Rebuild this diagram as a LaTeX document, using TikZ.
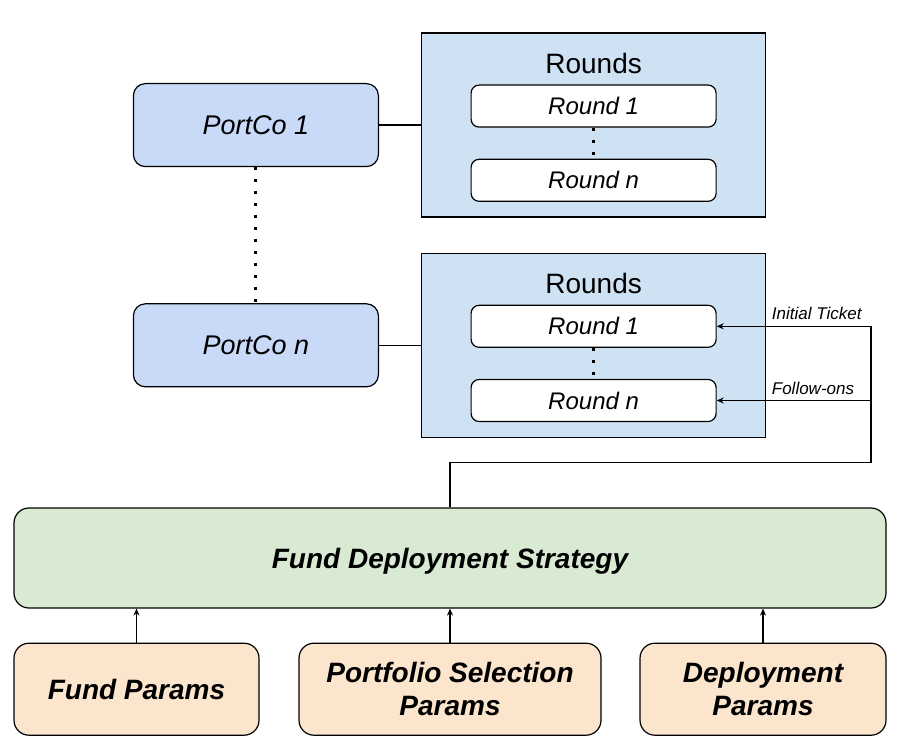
\documentclass[tikz,border=0pt]{standalone}
\usepackage{fontspec}
\setmainfont{Liberation Sans}
\usetikzlibrary{positioning,arrows.meta}
\definecolor{portcoblue}{HTML}{C9DAF8}
\definecolor{roundsblue}{HTML}{CFE2F3}
\definecolor{stratgreen}{HTML}{D9EAD3}
\definecolor{paramorange}{HTML}{FCE5CD}
\tikzstyle{portco} = [
rectangle,
rounded corners=12pt,
minimum width=245pt,
minimum height=83pt,
text centered,
draw=black,
line width=1.2pt,
fill=portcoblue,
font=\fontsize{27}{32}\selectfont\itshape
]
\tikzstyle{roundsbox} = [
rectangle,
minimum width=344pt,
minimum height=184pt,
draw=black,
line width=1.2pt,
fill=roundsblue
]
\tikzstyle{round} = [
rectangle,
rounded corners=8pt,
minimum width=245pt,
minimum height=42pt,
text centered,
draw=black,
line width=1.2pt,
fill=white,
font=\fontsize{24}{28}\selectfont\itshape
]
\tikzstyle{strategy} = [
rectangle,
rounded corners=15pt,
minimum width=872pt,
minimum height=100pt,
text centered,
text depth=0pt,
draw=black,
line width=1.2pt,
fill=stratgreen,
font=\fontsize{28}{33}\selectfont\bfseries\itshape
]
\tikzstyle{param} = [
rectangle,
rounded corners=15pt,
minimum width=245pt,
minimum height=92pt,
align=center,
draw=black,
line width=1.2pt,
fill=paramorange,
font=\fontsize{28}{33}\selectfont\bfseries\itshape
]
\tikzstyle{lbl} = [
inner sep=2pt,
font=\fontsize{17}{20}\selectfont\itshape
]
\tikzstyle{link} = [
line width=1.2pt
]
\tikzstyle{dots} = [
line width=3pt,
dash pattern=on 3pt off 9pt
]
\tikzstyle{arrow} = [
line width=1.2pt,
-{Stealth[length=7pt,width=6pt]}
]
\begin{document}
\begin{tikzpicture}
					\useasboundingbox (0,0) rectangle (902pt,-754pt);
					%Nodes
					\node[strategy] (strat) at (450pt,-558pt) {Fund Deployment Strategy};
					\node[param,below right=34pt and 0pt of strat.south west] (fundp) {Fund Params};
					\node[param,minimum width=302pt,below=34pt of strat] (portp) {Portfolio Selection\\Params};
					\node[param,minimum width=246pt,below left=34pt and 0pt of strat.south east] (deplp) {Deployment\\Params};
					\node[roundsbox,above right=69.5pt and -29pt of strat.north] (rbox2) {};
					\node[roundsbox,above=35pt of rbox2] (rbox1) {};
					\node[font=\fontsize{28}{33}\selectfont] (title1) at ([yshift=-31pt]rbox1.north) {Rounds};
					\node[font=\fontsize{28}{33}\selectfont] (title2) at ([yshift=-31pt]rbox2.north) {Rounds};
					\node[round,below=52pt of rbox1.north] (r11) {Round 1};
					\node[round,below=31pt of r11] (r1n) {Round n};
					\node[round,below=52pt of rbox2.north] (r21) {Round 1};
					\node[round,below=31pt of r21] (r2n) {Round n};
					\node[portco,left=42pt of rbox1] (pc1) {PortCo 1};
					\node[portco,left=42pt of rbox2] (pcn) {PortCo n};
					\coordinate (fb) at ([shift={(421pt,45pt)}]strat.north);
					\node[lbl,above right=4pt and 53pt of r21.east] (init) {Initial Ticket};
					\node[lbl,above right=4pt and 53pt of r2n.east] (follow) {Follow-ons};
					%Lines
					\draw[link] (pc1) -- (rbox1);
					\draw[link] (pcn) -- (rbox2);
					\draw[dots] (pc1.south) -- (pcn.north);
					\draw[dots] (r11.south) -- (r1n.north);
					\draw[dots] (r21.south) -- (r2n.north);
					%Arrows
					\draw[arrow] (strat.north) |- (fb) |- (r21.east);
					\draw[arrow] (fb |- r2n.east) -- (r2n.east);
					\draw[arrow] (fundp.north) -- (fundp |- strat.south);
					\draw[arrow] (portp.north) -- (portp |- strat.south);
					\draw[arrow] (deplp.north) -- (deplp |- strat.south);
				\end{tikzpicture}
\end{document}
